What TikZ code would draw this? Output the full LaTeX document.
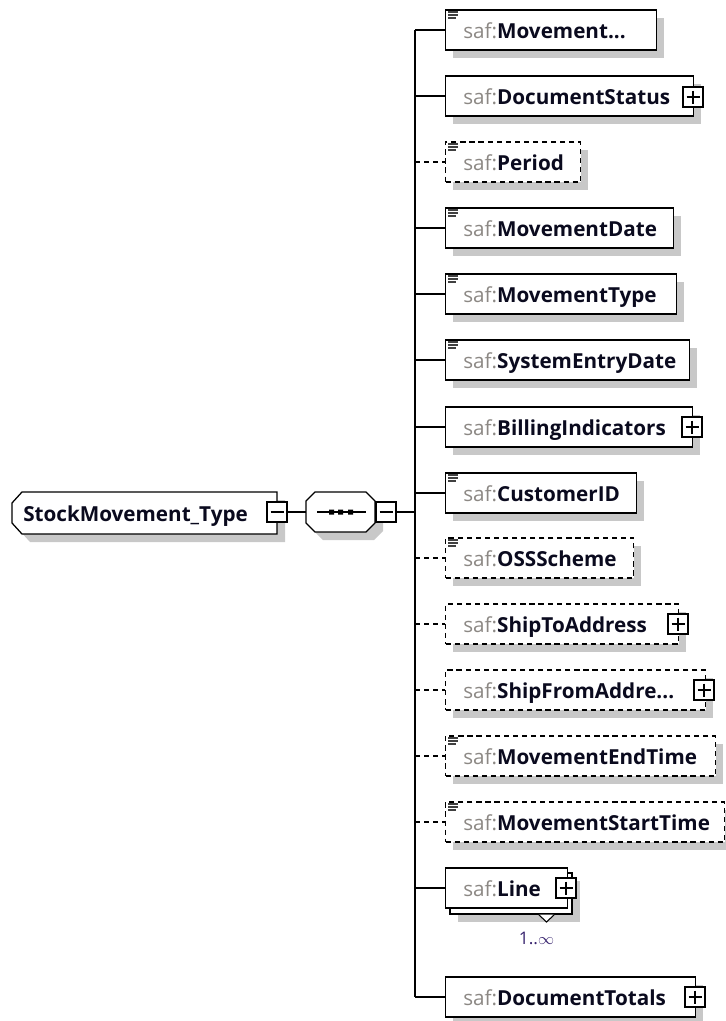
\documentclass[tikz,border=0pt]{standalone}
\usepackage{fontspec}
\setmainfont{Open Sans}
\definecolor{safgray}{RGB}{140,136,132}
\definecolor{shadowc}{RGB}{200,200,200}
\definecolor{multc}{RGB}{55,35,110}
\definecolor{namec}{RGB}{10,10,30}
\tikzset{
  elbox/.style={draw, fill=white, line width=0.95pt, minimum height=30pt, inner sep=0pt},
  opt/.style={dash pattern=on 3.9pt off 2.9pt},
  req/.style={solid},
  lbl/.style={inner sep=0pt, font=\fontsize{15.5pt}{18pt}\selectfont},
  conn/.style={line width=0.95pt},
  pmbox/.style={draw, fill=white, line width=0.9pt, minimum size=15pt, inner sep=0pt},
  pmsign/.style={line width=0.9pt},
  docl/.style={line width=1pt, black!75},
}
\newcommand\mkel[5]{%
  \fill[shadowc] (453,#2-12) rectangle (#3+8,#2+28);
  \node[elbox,#4,minimum width={(#3-445)*0.75pt},anchor=west] (#1) at (445,#2) {};
  \node[lbl,anchor=base west] (#1t) at (463,#2+8) {\textcolor{safgray}{saf:}\textcolor{namec}{\textbf{#5}}};
  \coordinate (#1b) at (415,#2);
  \draw[conn,#4] (#1b) -- (#1.west);
}
\newcommand\docicon[1]{%
  \draw[docl] (448,#1-18) -- (458,#1-18) (448,#1-15) -- (458,#1-15) (448,#1-12) -- (456,#1-12);
}
\newcommand\plusbox[3]{%
  \node[pmbox] (#1) at (#2,#3) {};
  \draw[pmsign] (#2-6.5,#3) -- (#2+6.5,#3) (#2,#3-6.5) -- (#2,#3+6.5);
}
\newcommand\minusbox[3]{%
  \node[pmbox] (#1) at (#2,#3) {};
  \draw[pmsign] (#2-6.5,#3) -- (#2+6.5,#3);
}
\begin{document}
\begin{tikzpicture}[x=0.75pt,y=-0.75pt]
\useasboundingbox (0,0) rectangle (725,1021);

% ---- root type ----
\fill[shadowc] (20,511) -- (30,500) -- (285,500) -- (285,542) -- (30,542) -- (20,531) -- cycle;
\draw[fill=white,line width=0.95pt] (12,503) -- (22,492) -- (277,492) -- (277,534) -- (22,534) -- (12,523) -- cycle;
\node[inner sep=0pt,minimum width={265*0.75pt},minimum height={42*0.75pt}] (type) at (144.5,513) {};
\node[lbl,anchor=base west] (typet) at (23,521) {\textcolor{namec}{\textbf{StockMovement\_Type}}};
\minusbox{typem}{277}{512}

% ---- sequence compositor ----
\fill[shadowc] (314,509) -- (323,500) -- (374,500) -- (383,509) -- (383,531) -- (374,540) -- (323,540) -- (314,531) -- cycle;
\draw[fill=white,line width=0.95pt] (306,501) -- (315,492) -- (366,492) -- (375,501) -- (375,523) -- (366,532) -- (315,532) -- (306,523) -- cycle;
\node[inner sep=0pt,minimum width={69*0.75pt},minimum height={40*0.75pt}] (seq) at (340.5,512) {};
\draw[line width=0.95pt] (317,512) -- (366,512);
\fill (329,509.5) rectangle (334,514.5) (338,509.5) rectangle (343,514.5) (348,509.5) rectangle (353,514.5);
\minusbox{seqm}{386}{512}
\coordinate (busmid) at (415,512);
\draw[conn] (typem.east) -- (seq.west);
\draw[conn] (seqm.east) -- (busmid);

% ---- children ----
\mkel{e0}{30}{656}{req}{Movement...}\docicon{30}
\mkel{e1}{96}{693}{req}{DocumentStatus}\plusbox{e1p}{693}{97}
\mkel{e2}{162}{580}{opt}{Period}\docicon{162}
\mkel{e3}{228}{673}{req}{MovementDate}\docicon{228}
\mkel{e4}{294}{676}{req}{MovementType}\docicon{294}
\mkel{e5}{360}{689}{req}{SystemEntryDate}\docicon{360}
\mkel{e6}{427}{692}{req}{BillingIndicators}\plusbox{e6p}{692}{427}
\mkel{e7}{493}{636}{req}{CustomerID}\docicon{493}
\mkel{e8}{558}{633}{opt}{OSSScheme}\docicon{558}
\mkel{e9}{624}{678}{opt}{ShipToAddress}\plusbox{e9p}{678}{624}
\mkel{e10}{690}{705}{opt}{ShipFromAddre...}\plusbox{e10p}{704}{690}
\mkel{e11}{756}{715}{opt}{MovementEndTime}\docicon{756}
\mkel{e12}{822}{724}{opt}{MovementStartTime}\docicon{822}

% Line (multiple)
\fill[shadowc] (458,881) rectangle (580,922);
\draw[fill=white,line width=0.95pt] (450,873) rectangle (572,914);
\node[elbox,minimum width={122*0.75pt},anchor=west] (e13) at (445,888) {};
\node[lbl,anchor=base west] (e13t) at (463,896) {\textcolor{safgray}{saf:}\textcolor{namec}{\textbf{Line}}};
\coordinate (e13b) at (415,888);
\draw[conn] (e13b) -- (e13.west);
\plusbox{e13p}{566}{888}
\fill[white] (538,914.5) -- (546.5,922) -- (555,914.5) -- cycle;
\draw[line width=0.8pt] (538,914) -- (546.5,922) -- (555,914);
\node[inner sep=0pt,font=\fontsize{13pt}{15pt}\selectfont,text=multc] (mult) at (536.5,938) {1..$\infty$};

\mkel{e14}{997}{695}{req}{DocumentTotals}\plusbox{e14p}{695}{997}

% bus
\draw[conn] (e0b) -- (e14b);
\end{tikzpicture}
\end{document}
